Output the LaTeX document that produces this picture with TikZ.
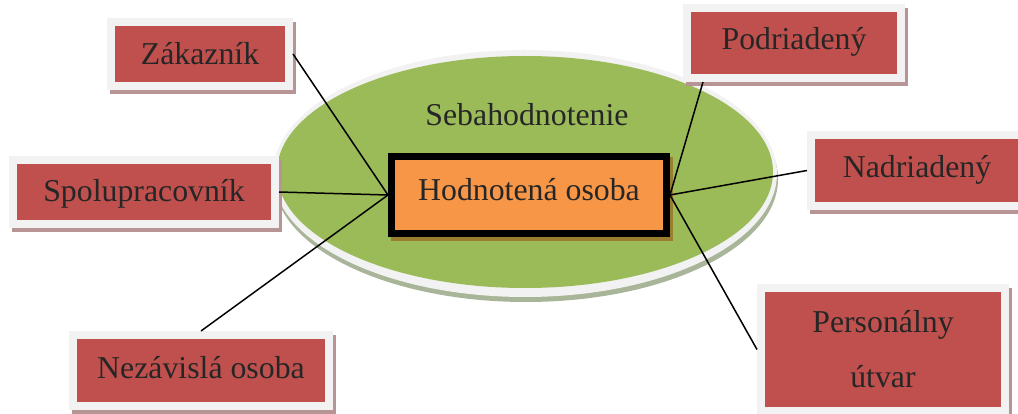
\documentclass[tikz,border=0pt]{standalone}
\usepackage{fontspec}
\setmainfont{Liberation Serif}
\usetikzlibrary{calc,backgrounds}
\definecolor{boxred}{HTML}{C0504D}
\definecolor{frameg}{HTML}{F2F2F2}
\definecolor{shadred}{HTML}{B79596}
\definecolor{ellg}{HTML}{9BBB59}
\definecolor{ellsh}{HTML}{A8B598}
\definecolor{hodor}{HTML}{F79646}
\definecolor{hodsh}{HTML}{9B7D2F}
\definecolor{txt}{HTML}{262626}
\begin{document}
\begin{tikzpicture}[x=1pt,y=-1pt,
  lab/.style={font=\fontsize{31.8}{55}\selectfont, text=txt},
  redbox/.style={lab, fill=boxred, inner sep=0pt, outer sep=8pt, align=center, text height=21.7pt},
  conn/.style={draw=black, line width=1.5pt}]
\useasboundingbox (0,0) rectangle (1018,414);

% nodes
\node[lab, inner sep=0pt] (seb) at (527,115) {Sebahodnotenie};
\node[lab, draw=black, line width=7pt, fill=hodor, inner sep=0pt,
      minimum width=275pt, minimum height=77pt, text height=21.7pt, text depth=9.7pt] (hod) at (529,195) {Hodnotená osoba};

\node[redbox, minimum width=170pt, minimum height=56pt, text depth=0pt] (zak) at (200,54) {Zákazník};
\node[redbox, minimum width=206pt, minimum height=62pt, text depth=7.7pt] (pod) at (794,43) {Podriadený};
\node[redbox, minimum width=204pt, minimum height=63pt, text depth=6.7pt] (nad) at (917,170.5) {Nadriadený};
\node[redbox, minimum width=254pt, minimum height=56pt, text depth=2pt] (spo) at (144,192) {Spolupracovník};
\node[redbox, minimum width=248pt, minimum height=63pt, text depth=6.7pt] (nez) at (201,370.5) {Nezávislá osoba};
\node[lab, fill=boxred, inner sep=0pt, outer sep=8pt, align=center,
      minimum width=236pt, minimum height=115pt] (per) at (883,349.5) {Personálny\\útvar};

% background: ellipse, frames and shadows
\begin{scope}[on background layer]
  \fill[ellsh] (526,179) ellipse [x radius=252, y radius=123];
  \fill[frameg] (525,173.5) ellipse [x radius=252, y radius=123.5];
  \fill[ellg] (525,172) ellipse [x radius=248, y radius=116];
  \fill[hodsh] ($(hod.north west)+(3,4)$) rectangle ($(hod.south east)+(3,4)$);
  \foreach \n in {zak,pod,nad,spo,nez,per} {
    \fill[shadred] ($(\n.north west)+(3,4)$) rectangle ($(\n.south east)+(3,4)$);
    \fill[frameg] (\n.north west) rectangle (\n.south east);
  }
\end{scope}

% connectors
\draw[conn] (zak.east) -- (hod.west);
\draw[conn] (spo.east) -- (hod.west);
\draw[conn] (nez.north) -- (hod.west);
\draw[conn] ($(pod.south west)+(20,0)$) -- (hod.east);
\draw[conn] (nad.west) -- (hod.east);
\draw[conn] (per.west) -- (hod.east);
\end{tikzpicture}
\end{document}
